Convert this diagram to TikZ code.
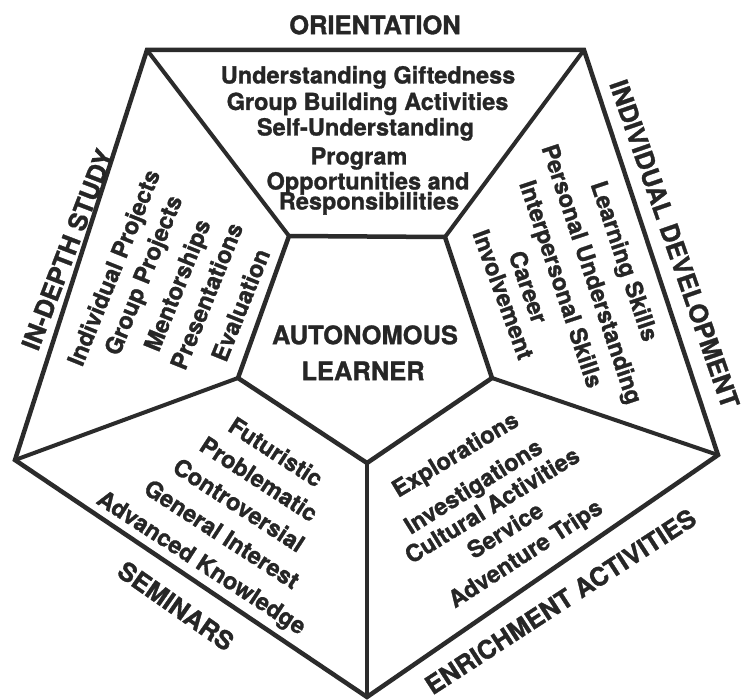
\documentclass[tikz,border=0pt]{standalone}
\usepackage{fontspec}
\setmainfont{TeX Gyre Heros}[BoldFeatures={FakeBold=1.2}]
\definecolor{ink}{HTML}{262626}
\definecolor{linec}{HTML}{2B2B2B}
\tikzset{
  edge/.style={draw=linec, line width=4.5pt, line join=miter},
  spoke/.style={draw=linec, line width=4pt},
  item/.style={text=ink, inner sep=0pt, anchor=center,
    font=\bfseries\fontsize{23.5}{28}\selectfont, text height=17pt, text depth=0pt},
  head/.style={text=ink, inner sep=0pt, anchor=center,
    font=\bfseries\fontsize{25.5}{30}\selectfont, text height=18.4pt, text depth=0pt},
}
\begin{document}
\begin{tikzpicture}[x=1pt,y=-1pt]
\fill[white] (0,0) rectangle (741,700);
\useasboundingbox (0,0) rectangle (741,700);
% outer pentagon
\coordinate (o1) at (147,50);
\coordinate (o2) at (584,50);
\coordinate (o3) at (718,455);
\coordinate (o4) at (367,697);
\coordinate (o5) at (15,460);
% inner pentagon
\coordinate (i1) at (289,236);
\coordinate (i2) at (445,237);
\coordinate (i3) at (492,378);
\coordinate (i4) at (367,463);
\coordinate (i5) at (238,378);
\draw[edge] (o1) -- (o2) -- (o3) -- (o4) -- (o5) -- cycle;
\draw[edge] (i1) -- (i2) -- (i3) -- (i4) -- (i5) -- cycle;
\draw[spoke] (o1) -- (i1);
\draw[spoke] (o2) -- (i2);
\draw[spoke] (o3) -- (i3);
\draw[spoke] (o4) -- (i4);
\draw[spoke] (o5) -- (i5);
% centre
\node[head] (auto) at (365,335) {AUTONOMOUS};
\node[head] (learn) at (363,371) {LEARNER};
% top: orientation
\node[head] (orient) at (375,25) {ORIENTATION};
\node[item] (t1) at (368,75) {Understanding Giftedness};
\node[item] (t2) at (367.5,101.5) {Group Building Activities};
\node[item] (t3) at (365.5,127) {Self-Understanding};
\node[item] (t4) at (359,156) {Program};
\node[item] (t5) at (368,181) {Opportunities and};
\node[item] (t6) at (369,201) {Responsibilities};
% left: in-depth study
\node[head, rotate=69] (indepth) at (67.5,249.5) {IN-DEPTH STUDY};
\node[item, rotate=68] (l1) at (113.5,267.5) {Individual Projects};
\node[item, rotate=68] (l2) at (143,275) {Group Projects};
\node[item, rotate=68] (l3) at (177,285) {Mentorships};
\node[item, rotate=68] (l4) at (206.5,296) {Presentations};
\node[item, rotate=68] (l5) at (240.5,305) {Evaluation};
% right: individual development
\node[head, rotate=-70.8] (indiv) at (674.5,244) {INDIVIDUAL DEVELOPMENT};
\node[item, rotate=-71.5] (r1) at (625,261) {Learning Skills};
\node[item, rotate=-71.5] (r2) at (592.5,274) {Personal Understanding};
\node[item, rotate=-71.5] (r3) at (561.5,284) {Interpersonal Skills};
\node[item, rotate=-71] (r4) at (528.5,287) {Career};
\node[item, rotate=-70] (r5) at (503.5,294.5) {Involvement};
% bottom left: seminars
\node[item, rotate=-33] (s1) at (276,452) {Futuristic};
\node[item, rotate=-33] (s2) at (259,479) {Problematic};
\node[item, rotate=-33] (s3) at (239,505) {Controversial};
\node[item, rotate=-33] (s4) at (222,534) {General Interest};
\node[item, rotate=-33] (s5) at (202,562) {Advanced Knowledge};
\node[head, rotate=-35] (semin) at (176,606) {SEMINARS};
% bottom right: enrichment
\node[item, rotate=31] (e1) at (455,454) {Explorations};
\node[item, rotate=32] (e2) at (473,486) {Investigations};
\node[item, rotate=31.5] (e3) at (492,505) {Cultural Activities};
\node[item, rotate=32] (e4) at (505,530) {Service};
\node[item, rotate=33] (e5) at (525,553) {Adventure Trips};
\node[head, rotate=33] (enrich) at (560.5,601.5) {ENRICHMENT ACTIVITIES};
\end{tikzpicture}
\end{document}
